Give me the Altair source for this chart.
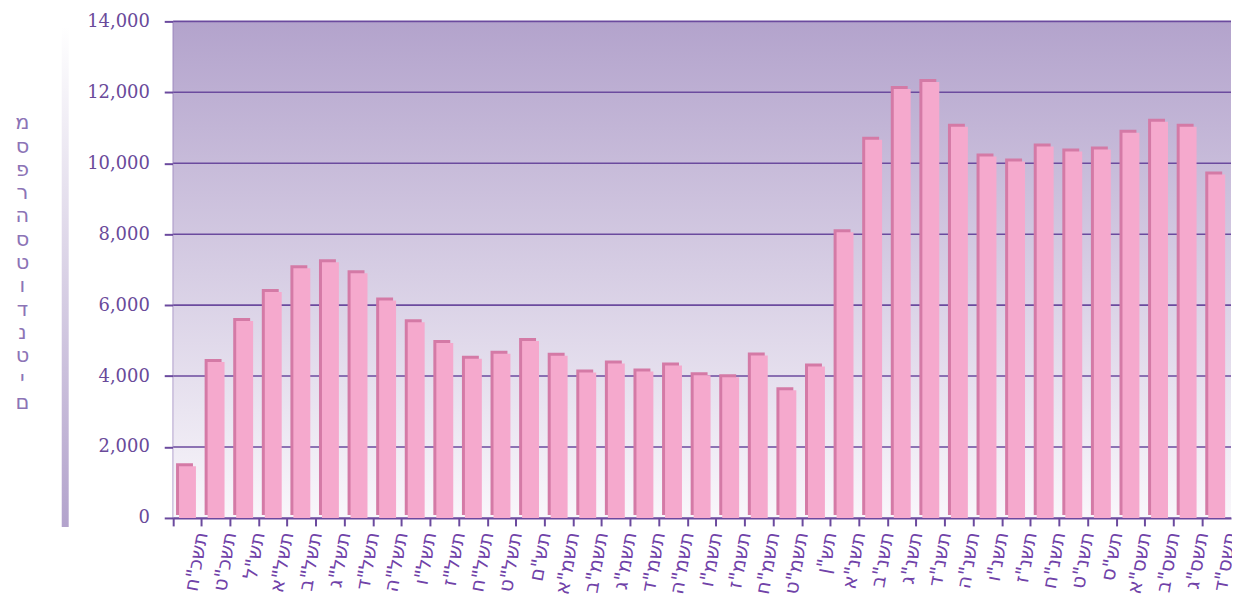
import altair as alt
import pandas as pd

years = ['תשכ"ח', 'תשכ"ט', 'תש"ל', 'תשל"א', 'תשל"ב', 'תשל"ג', 'תשל"ד', 'תשל"ה',
         'תשל"ו', 'תשל"ז', 'תשל"ח', 'תשל"ט', 'תש"ם', 'תשמ"א', 'תשמ"ב', 'תשמ"ג',
         'תשמ"ד', 'תשמ"ה', 'תשמ"ו', 'תשמ"ז', 'תשמ"ח', 'תשמ"ט', 'תש"ן', 'תשנ"א',
         'תשנ"ב', 'תשנ"ג', 'תשנ"ד', 'תשנ"ה', 'תשנ"ו', 'תשנ"ז', 'תשנ"ח', 'תשנ"ט',
         'תש"ס', 'תשס"א', 'תשס"ב', 'תשס"ג', 'תשס"ד']
students = [1460, 4400, 5550, 6370, 7040, 7210, 6900, 6130,
            5520, 4930, 4490, 4630, 4990, 4570, 4100, 4355,
            4130, 4300, 4020, 3970, 4580, 3600, 4270, 8055,
            10665, 12095, 12290, 11030, 10190, 10050, 10470, 10330,
            10385, 10860, 11170, 11030, 9680]

y_ticks = [0, 2000, 4000, 6000, 8000, 10000, 12000, 14000]
y_title = ["מ", "ס", "פ", "ר", " ", "ה", "ס", "ט", "ו", "ד", "נ", "ט", "י", "ם"]

df = pd.DataFrame({"year": years, "students": students})
grid_df = pd.DataFrame({"students": y_ticks})

PURPLE = "#6b4a9e"
W, H = 1063, 499
BAND = W / len(years)

x_enc = alt.X(
    "year:N", sort=None,
    scale=alt.Scale(paddingInner=0, paddingOuter=0),
    axis=alt.Axis(
        title=None, labelAngle=-80, labelAlign="right", labelBaseline="middle",
        labelFont="DejaVu Sans", labelFontSize=20, labelColor="#7042a8",
        labelPadding=6, labelOverlap=False, bandPosition=0, labelOffset=BAND / 2,
        tickColor=PURPLE, tickSize=8, tickWidth=2,
        domainColor=PURPLE, domainWidth=2, grid=False,
    ),
)
y_enc = alt.Y(
    "students:Q",
    scale=alt.Scale(domain=[0, 14000], nice=False),
    axis=alt.Axis(
        values=y_ticks, format=",d",
        labelFont="DejaVu Serif", labelFontSize=18, labelColor="#6a4a9a",
        labelPadding=15, tickColor=PURPLE, tickSize=9, tickWidth=2,
        domainColor=PURPLE, domainWidth=2, grid=False,
        title=y_title, titleAngle=0, titleX=-152, titleY=91,
        titleAlign="center", titleBaseline="top", titleLineHeight=23.4,
        titleFont="DejaVu Sans", titleFontSize=21, titleFontWeight="normal",
        titleColor="#8c74b6",
    ),
)

one = pd.DataFrame({"k": [0]})

strip = alt.Chart(one).mark_rect(
    fill=alt.LinearGradient(
        gradient="linear", x1=0, x2=0, y1=0, y2=1,
        stops=[alt.GradientStop(offset=0, color="#ffffff"),
               alt.GradientStop(offset=1, color="#b3a3cc")],
    )
).encode(
    x=alt.value(-112), x2=alt.value(-105), y=alt.value(5), y2=alt.value(508)
)

background = alt.Chart(one).mark_rect(
    fill=alt.LinearGradient(
        gradient="linear", x1=0, x2=0, y1=0, y2=1,
        stops=[alt.GradientStop(offset=0, color="#b3a3cc"),
               alt.GradientStop(offset=1, color="#f9f7fb")],
    )
).encode(
    x=alt.value(0), x2=alt.value(W), y=alt.value(0), y2=alt.value(H)
)

grid = alt.Chart(grid_df).mark_rule(color=PURPLE, strokeWidth=1.6).encode(
    y=y_enc, x=alt.value(0), x2=alt.value(W)
)

dark = alt.Chart(df).mark_bar(
    width=17, color="#d47aa6", xOffset=-3, yOffset=-3, y2Offset=0
).encode(x=x_enc, y=y_enc)

light = alt.Chart(df).mark_bar(
    width=17, color="#f5a9cd"
).encode(x=x_enc, y=y_enc)

chart = alt.layer(background, strip, grid, dark, light).properties(
    width=W, height=H, autosize="none",
    padding={"left": 166, "top": 12, "right": 1, "bottom": 78},
).configure_view(strokeWidth=0)

chart.save("out.html", embed_options={"renderer": "svg", "actions": False})
